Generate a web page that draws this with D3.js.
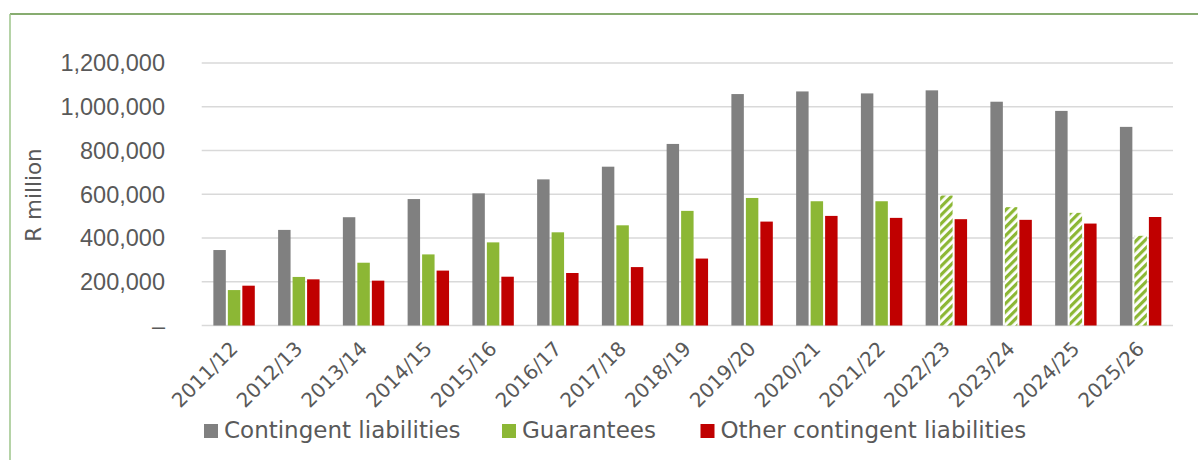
<!DOCTYPE html>
<html>
<head>
<meta charset="utf-8">
<script src="https://cdn.jsdelivr.net/npm/d3@7"></script>
<style>
html,body{margin:0;padding:0;background:#fff;}
svg{display:block;}
text{font-family:"DejaVu Sans",sans-serif;fill:#595959;}
</style>
</head>
<body>
<script>
const categories = ["2011/12","2012/13","2013/14","2014/15","2015/16","2016/17","2017/18","2018/19","2019/20","2020/21","2021/22","2022/23","2023/24","2024/25","2025/26"];
const contingent = [345000,437000,495000,578000,604000,668000,726000,830000,1058000,1070000,1061000,1075000,1023000,981000,908000];
const guarantees = [162000,222000,287000,325000,380000,426000,458000,524000,583000,568000,568000,594000,541000,515000,410000];
const other = [182000,211000,205000,251000,223000,240000,267000,306000,475000,501000,492000,486000,483000,466000,496000];
const projectedFrom = "2022/23";
const seriesNames = ["Contingent liabilities","Guarantees","Other contingent liabilities"];
const seriesColors = ["#808080","#8cb735","#c00000"];
const yTicks = [0,200000,400000,600000,800000,1000000,1200000];

const W = 1198, H = 460;
const svg = d3.select("body").append("svg").attr("width", W).attr("height", H);

// pattern for projected guarantees
const defs = svg.append("defs");
const pat = defs.append("pattern").attr("id","hatch").attr("patternUnits","userSpaceOnUse")
  .attr("width",6).attr("height",6).attr("patternTransform","rotate(45)");
pat.append("rect").attr("width",6).attr("height",6).attr("fill","#ffffff");
pat.append("rect").attr("width",3.2).attr("height",6).attr("fill","#8cb735");

// frame
svg.append("line").attr("x1",10).attr("x2",W).attr("y1",14).attr("y2",14).attr("stroke","#5f9140").attr("stroke-width",1.5);
svg.append("line").attr("x1",10).attr("x2",10).attr("y1",14).attr("y2",H).attr("stroke","#9cc48a").attr("stroke-width",1.5);

const x0 = d3.scaleBand().domain(categories).range([201.7,1173]).paddingInner(0.36).paddingOuter(0.18);
const x1 = d3.scaleBand().domain([0,1,2]).range([0,x0.bandwidth()]).paddingInner(0.14).paddingOuter(0);
const y = d3.scaleLinear().domain([0,1200000]).range([325.5,63]);

// gridlines
svg.append("g").selectAll("line").data(yTicks).join("line")
  .attr("x1",201.7).attr("x2",1173).attr("y1",d=>y(d)).attr("y2",d=>y(d))
  .attr("stroke","#d9d9d9").attr("stroke-width",1.6);

// y axis labels
const fmt = d3.format(",");
svg.append("g").selectAll("text").data(yTicks).join("text")
  .attr("x",165).attr("y",d=>y(d)).attr("dy","0.36em").attr("text-anchor","end")
  .style("font-family","'Liberation Sans',sans-serif").style("font-size","23.5px")
  .text(d=> d===0 ? "\u2013" : fmt(d));

// y label
svg.append("text").attr("transform","translate(41,195) rotate(-90)").attr("text-anchor","middle")
  .style("font-size","21.5px").text("R million");

// bars
const seriesVals = [contingent, guarantees, other];
const projIdx = categories.indexOf(projectedFrom);
const g = svg.append("g");
categories.forEach((c,i)=>{
  seriesVals.forEach((vals,s)=>{
    let fill = seriesColors[s];
    if (s===1 && i>=projIdx) fill = "url(#hatch)";
    g.append("rect")
      .attr("x", x0(c)+x1(s)).attr("width", x1.bandwidth())
      .attr("y", y(vals[i])).attr("height", y(0)-y(vals[i]))
      .attr("fill", fill);
  });
});

// x labels
svg.append("g").selectAll("text").data(categories).join("text")
  .attr("transform", d=>`translate(${x0(d)+x0.bandwidth()/2+5},350) rotate(-45)`)
  .attr("text-anchor","end").style("font-size","20px").text(d=>d);

// legend
const legendX = [204, 502, 700.5];
seriesNames.forEach((n,s)=>{
  svg.append("rect").attr("x",legendX[s]).attr("y",424).attr("width",14).attr("height",14).attr("fill",seriesColors[s]);
  svg.append("text").attr("x",legendX[s]+20).attr("y",438).style("font-size","23px").text(n);
});
</script>
</body>
</html>
